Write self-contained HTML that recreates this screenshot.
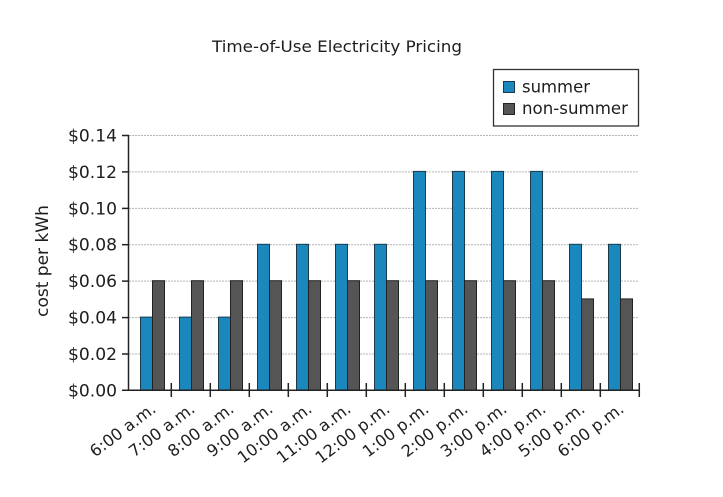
<!DOCTYPE html>
<html>
<head>
<meta charset="utf-8">
<style>
  html, body { margin:0; padding:0; background:#ffffff; }
  svg { display:block; }
  text { font-family: "DejaVu Sans", "Liberation Sans", sans-serif; fill:#1e1e1e; }
</style>
</head>
<body>
<svg width="723" height="497" viewBox="0 0 723 497" xmlns="http://www.w3.org/2000/svg">
  <rect x="0" y="0" width="723" height="497" fill="#ffffff"/>

  <!-- title -->
  <text x="212" y="52" font-size="16" textLength="250" lengthAdjust="spacingAndGlyphs">Time-of-Use Electricity Pricing</text>

  <!-- legend -->
  <rect x="493.5" y="69.5" width="145" height="56.5" fill="#fff" stroke="#333" stroke-width="1.3"/>
  <rect x="503.5" y="81.5" width="11" height="11" fill="#1a87bd" stroke="#1d3a4d" stroke-width="1"/>
  <rect x="503.5" y="103.5" width="11" height="11" fill="#555555" stroke="#222" stroke-width="1"/>
  <text x="522" y="92.5" font-size="16.5" textLength="68" lengthAdjust="spacingAndGlyphs">summer</text>
  <text x="522" y="114" font-size="16.5" textLength="106" lengthAdjust="spacingAndGlyphs">non-summer</text>

  <!-- gridlines -->
  <g stroke="#b4b4b4" stroke-width="1" stroke-dasharray="2,1">
    <line x1="129" y1="135.5" x2="639" y2="135.5"/>
    <line x1="129" y1="171.9" x2="639" y2="171.9"/>
    <line x1="129" y1="208.4" x2="639" y2="208.4"/>
    <line x1="129" y1="244.7" x2="639" y2="244.7"/>
    <line x1="129" y1="281.1" x2="639" y2="281.1"/>
    <line x1="129" y1="317.6" x2="639" y2="317.6"/>
    <line x1="129" y1="354" x2="639" y2="354"/>
  </g>

  <!-- bars -->
  <g stroke-width="1">
    <g fill="#1a87bd" stroke="#1d3a4d">
      <rect x="140.5" y="317.1" width="12" height="72.9"/>
      <rect x="179.5" y="317.1" width="12" height="72.9"/>
      <rect x="218.5" y="317.1" width="12" height="72.9"/>
      <rect x="257.5" y="244.3" width="12" height="145.7"/>
      <rect x="296.5" y="244.3" width="12" height="145.7"/>
      <rect x="335.5" y="244.3" width="12" height="145.7"/>
      <rect x="374.5" y="244.3" width="12" height="145.7"/>
      <rect x="413.5" y="171.4" width="12" height="218.6"/>
      <rect x="452.5" y="171.4" width="12" height="218.6"/>
      <rect x="491.5" y="171.4" width="12" height="218.6"/>
      <rect x="530.5" y="171.4" width="12" height="218.6"/>
      <rect x="569.5" y="244.3" width="12" height="145.7"/>
      <rect x="608.5" y="244.3" width="12" height="145.7"/>
    </g>
    <g fill="#555555" stroke="#222">
      <rect x="152.5" y="280.7" width="12" height="109.3"/>
      <rect x="191.5" y="280.7" width="12" height="109.3"/>
      <rect x="230.5" y="280.7" width="12" height="109.3"/>
      <rect x="269.5" y="280.7" width="12" height="109.3"/>
      <rect x="308.5" y="280.7" width="12" height="109.3"/>
      <rect x="347.5" y="280.7" width="12" height="109.3"/>
      <rect x="386.5" y="280.7" width="12" height="109.3"/>
      <rect x="425.5" y="280.7" width="12" height="109.3"/>
      <rect x="464.5" y="280.7" width="12" height="109.3"/>
      <rect x="503.5" y="280.7" width="12" height="109.3"/>
      <rect x="542.5" y="280.7" width="12" height="109.3"/>
      <rect x="581.5" y="298.9" width="12" height="91.1"/>
      <rect x="620.5" y="298.9" width="12" height="91.1"/>
    </g>
  </g>

  <!-- axes -->
  <g stroke="#222" stroke-width="1.5">
    <line x1="128.5" y1="135" x2="128.5" y2="390.5"/>
    <line x1="122" y1="390.2" x2="640" y2="390.2"/>
    <line x1="122" y1="135.5" x2="129" y2="135.5"/>
    <line x1="122" y1="171.9" x2="129" y2="171.9"/>
    <line x1="122" y1="208.4" x2="129" y2="208.4"/>
    <line x1="122" y1="244.7" x2="129" y2="244.7"/>
    <line x1="122" y1="281.1" x2="129" y2="281.1"/>
    <line x1="122" y1="317.6" x2="129" y2="317.6"/>
    <line x1="122" y1="354" x2="129" y2="354"/>
    <line x1="171.3" y1="383" x2="171.3" y2="397"/>
    <line x1="210.3" y1="383" x2="210.3" y2="397"/>
    <line x1="249.3" y1="383" x2="249.3" y2="397"/>
    <line x1="288.3" y1="383" x2="288.3" y2="397"/>
    <line x1="327.3" y1="383" x2="327.3" y2="397"/>
    <line x1="366.3" y1="383" x2="366.3" y2="397"/>
    <line x1="405.3" y1="383" x2="405.3" y2="397"/>
    <line x1="444.3" y1="383" x2="444.3" y2="397"/>
    <line x1="483.3" y1="383" x2="483.3" y2="397"/>
    <line x1="522.3" y1="383" x2="522.3" y2="397"/>
    <line x1="561.3" y1="383" x2="561.3" y2="397"/>
    <line x1="600.3" y1="383" x2="600.3" y2="397"/>
    <line x1="639.3" y1="383" x2="639.3" y2="397"/>
  </g>

  <!-- y labels -->
  <g font-size="17" text-anchor="end">
    <text x="117" y="141.5" textLength="49" lengthAdjust="spacingAndGlyphs">$0.14</text>
    <text x="117" y="177.9" textLength="49" lengthAdjust="spacingAndGlyphs">$0.12</text>
    <text x="117" y="214.4" textLength="49" lengthAdjust="spacingAndGlyphs">$0.10</text>
    <text x="117" y="250.7" textLength="49" lengthAdjust="spacingAndGlyphs">$0.08</text>
    <text x="117" y="287.1" textLength="49" lengthAdjust="spacingAndGlyphs">$0.06</text>
    <text x="117" y="323.6" textLength="49" lengthAdjust="spacingAndGlyphs">$0.04</text>
    <text x="117" y="360" textLength="49" lengthAdjust="spacingAndGlyphs">$0.02</text>
    <text x="117" y="396.5" textLength="49" lengthAdjust="spacingAndGlyphs">$0.00</text>
  </g>

  <!-- y axis title -->
  <text transform="translate(48,261) rotate(-90)" font-size="17" text-anchor="middle">cost per kWh</text>

  <!-- x labels -->
  <g font-size="16.2" text-anchor="end">
    <text transform="translate(157,411) rotate(-37)">6:00 a.m.</text>
    <text transform="translate(196,411) rotate(-37)">7:00 a.m.</text>
    <text transform="translate(235,411) rotate(-37)">8:00 a.m.</text>
    <text transform="translate(274,411) rotate(-37)">9:00 a.m.</text>
    <text transform="translate(313,411) rotate(-37)">10:00 a.m.</text>
    <text transform="translate(352,411) rotate(-37)">11:00 a.m.</text>
    <text transform="translate(391,411) rotate(-37)">12:00 p.m.</text>
    <text transform="translate(430,411) rotate(-37)">1:00 p.m.</text>
    <text transform="translate(469,411) rotate(-37)">2:00 p.m.</text>
    <text transform="translate(508,411) rotate(-37)">3:00 p.m.</text>
    <text transform="translate(547,411) rotate(-37)">4:00 p.m.</text>
    <text transform="translate(586,411) rotate(-37)">5:00 p.m.</text>
    <text transform="translate(625,411) rotate(-37)">6:00 p.m.</text>
  </g>
</svg>
</body>
</html>
